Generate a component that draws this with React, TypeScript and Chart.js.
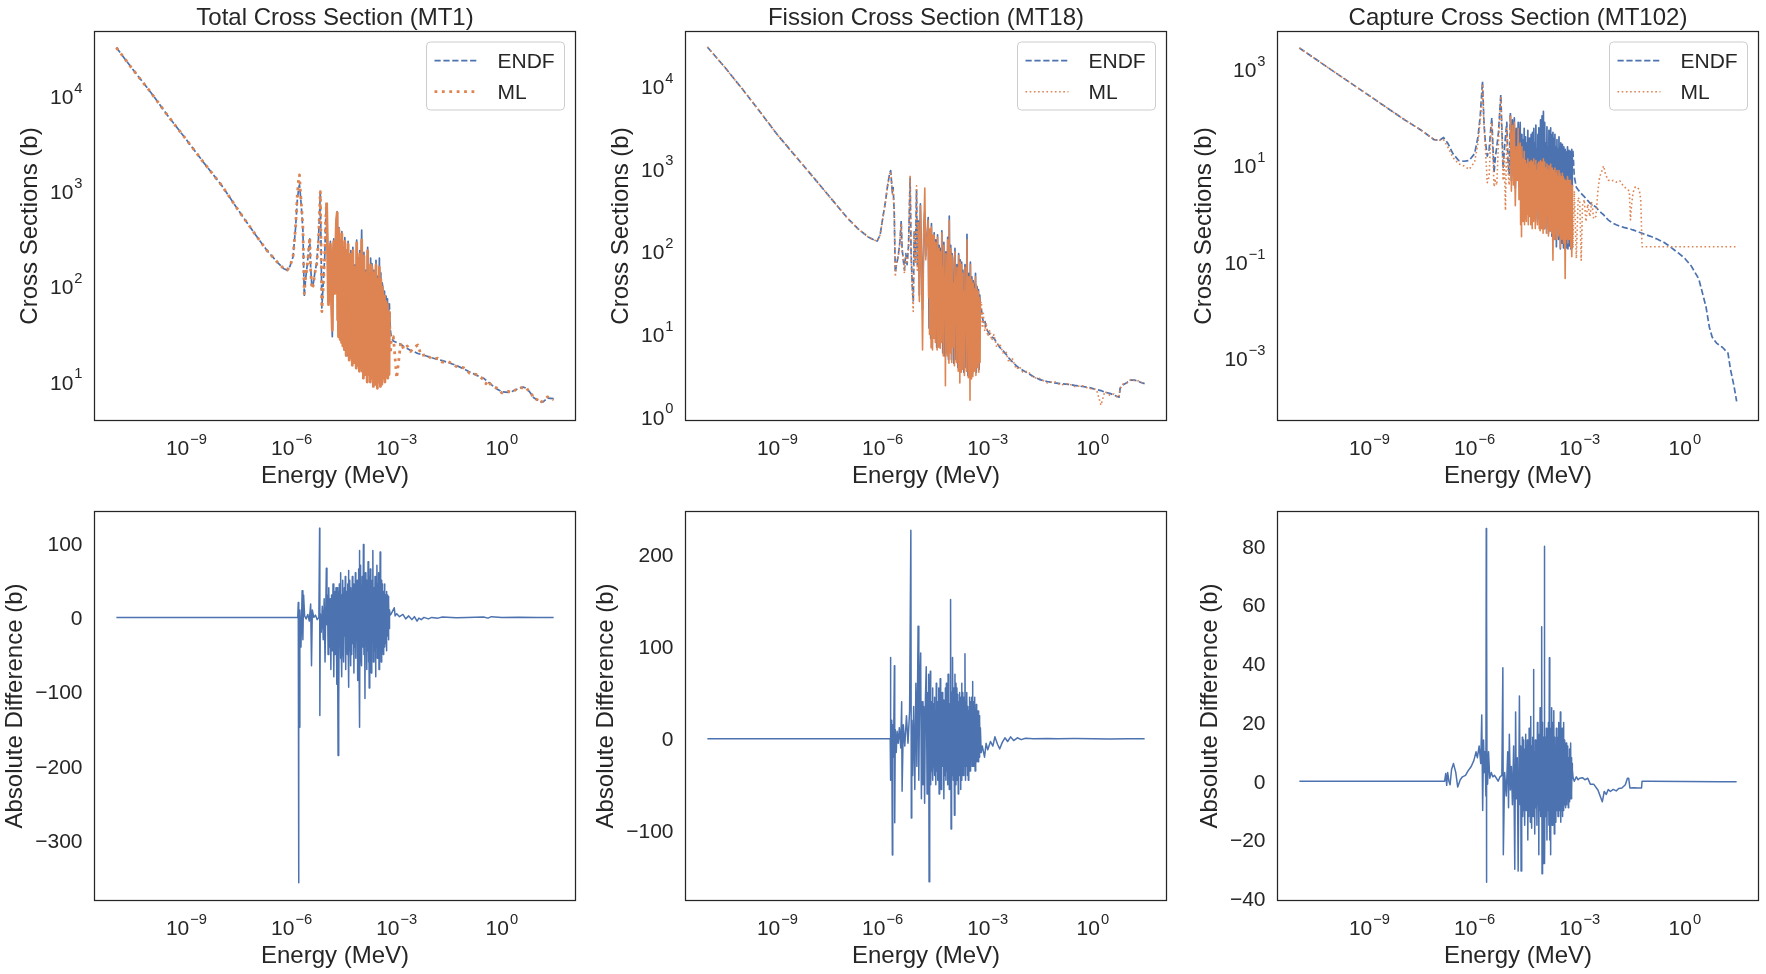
import React, { useEffect, useRef } from "react";
import { Chart, registerables } from "chart.js";

Chart.register(...registerables);

// ---------------- text ----------------
const PANEL_TITLES = [
  "Total Cross Section (MT1)",
  "Fission Cross Section (MT18)",
  "Capture Cross Section (MT102)",
];
const SERIES_NAMES = ["ENDF", "ML"];
const X_LABEL = "Energy (MeV)";
const Y_LABEL_TOP = "Cross Sections (b)";
const Y_LABEL_BOTTOM = "Absolute Difference (b)";

// ---------------- ticks ----------------
const X_TICK_EXPONENTS = [-9, -6, -3, 0];
const TOTAL_Y_EXPONENTS = [1, 2, 3, 4];
const FISSION_Y_EXPONENTS = [0, 1, 2, 3, 4];
const CAPTURE_Y_EXPONENTS = [-3, -1, 1, 3];
const DIFF_TOTAL_TICKS = [100, 0, -100, -200, -300];
const DIFF_FISSION_TICKS = [200, 100, 0, -100];
const DIFF_CAPTURE_TICKS = [80, 60, 40, 20, 0, -20, -40];

// ---------------- resolved-resonance energy grids (MeV) ----------------
const RESONANCE_GRID = [
  2.00e-5, 2.06e-5, 2.12e-5, 2.18e-5, 2.24e-5, 2.30e-5, 2.36e-5, 2.42e-5, 2.48e-5, 2.54e-5,
  2.60e-5, 2.66e-5, 2.72e-5, 2.78e-5, 2.84e-5, 2.90e-5, 2.96e-5,
  3.0e-5, 3.1e-5, 3.2e-5, 3.3e-5, 3.4e-5, 3.5e-5, 3.6e-5, 3.7e-5, 3.8e-5, 3.9e-5,
  4.0e-5, 4.1e-5, 4.2e-5, 4.3e-5, 4.4e-5, 4.5e-5, 4.6e-5, 4.7e-5, 4.8e-5, 4.9e-5,
  5.0e-5, 5.2e-5, 5.4e-5, 5.6e-5, 5.8e-5, 6.0e-5, 6.2e-5, 6.4e-5, 6.6e-5, 6.8e-5,
  7.0e-5, 7.2e-5, 7.4e-5, 7.6e-5, 7.8e-5, 8.0e-5, 8.2e-5, 8.4e-5, 8.6e-5, 8.8e-5,
  9.0e-5, 9.2e-5, 9.4e-5, 9.6e-5, 9.8e-5,
  1.00e-4, 1.04e-4, 1.08e-4, 1.12e-4, 1.16e-4, 1.20e-4, 1.24e-4, 1.28e-4, 1.32e-4, 1.36e-4,
  1.40e-4, 1.44e-4, 1.48e-4, 1.52e-4, 1.56e-4, 1.60e-4, 1.64e-4, 1.68e-4, 1.72e-4, 1.76e-4,
  1.80e-4, 1.84e-4, 1.88e-4, 1.92e-4, 1.96e-4,
  2.00e-4, 2.08e-4, 2.16e-4, 2.24e-4, 2.32e-4, 2.40e-4, 2.48e-4, 2.56e-4, 2.64e-4, 2.72e-4,
  2.80e-4, 2.88e-4, 2.96e-4, 3.04e-4, 3.12e-4, 3.20e-4, 3.28e-4, 3.36e-4, 3.44e-4, 3.52e-4,
  3.60e-4, 3.68e-4, 3.76e-4, 3.84e-4, 3.92e-4,
  4.00e-4, 4.12e-4, 4.24e-4, 4.36e-4, 4.48e-4, 4.60e-4, 4.72e-4, 4.84e-4, 4.96e-4, 5.08e-4,
  5.20e-4, 5.32e-4, 5.44e-4, 5.56e-4, 5.68e-4, 5.80e-4, 5.92e-4, 6.04e-4, 6.16e-4,
];
const RESONANCE_GRID_COARSE = [
  2.00e-5, 2.12e-5, 2.24e-5, 2.36e-5, 2.48e-5, 2.60e-5, 2.72e-5, 2.84e-5, 2.96e-5,
  3.1e-5, 3.3e-5, 3.5e-5, 3.7e-5, 3.9e-5, 4.1e-5, 4.3e-5, 4.5e-5, 4.7e-5, 4.9e-5,
  5.2e-5, 5.6e-5, 6.0e-5, 6.4e-5, 6.8e-5, 7.2e-5, 7.6e-5, 8.0e-5, 8.4e-5, 8.8e-5, 9.2e-5, 9.6e-5,
  1.00e-4, 1.08e-4, 1.16e-4, 1.24e-4, 1.32e-4, 1.40e-4, 1.48e-4, 1.56e-4, 1.64e-4, 1.72e-4, 1.80e-4, 1.88e-4, 1.96e-4,
  2.08e-4, 2.24e-4, 2.40e-4, 2.56e-4, 2.72e-4, 2.88e-4, 3.04e-4, 3.20e-4, 3.36e-4, 3.52e-4, 3.68e-4, 3.84e-4,
  4.00e-4, 4.24e-4, 4.48e-4, 4.72e-4, 4.96e-4, 5.20e-4, 5.44e-4, 5.68e-4, 5.92e-4, 6.16e-4,
];

// ---------------- Total cross section (MT1) ----------------
const ENERGY_TOTAL_LOW = [
  1e-11, 3e-11, 1e-10, 3e-10, 1e-9, 3e-9, 1e-8, 3e-8, 1e-7, 2e-7,
  4e-7, 6e-7, 7.5e-7, 9e-7, 1.1e-6, 1.3e-6, 1.45e-6, 1.6e-6, 1.68e-6, 1.8e-6,
  1.95e-6, 2.1e-6, 2.3e-6, 2.5e-6, 2.8e-6, 3.1e-6, 3.3e-6, 3.5e-6, 3.8e-6, 4.2e-6,
  4.6e-6, 5.2e-6, 5.8e-6, 6.3e-6, 6.6e-6, 6.9e-6, 7.3e-6, 8.0e-6, 8.8e-6, 9.4e-6,
  1.0e-5, 1.06e-5, 1.13e-5, 1.2e-5, 1.28e-5, 1.36e-5, 1.45e-5, 1.52e-5, 1.6e-5, 1.7e-5,
  1.8e-5, 1.9e-5,
];
const ENERGY_TOTAL_HIGH = [
  6.6e-4, 7.0e-4, 8.0e-4, 1.0e-3, 1.3e-3, 1.6e-3, 2.0e-3, 2.5e-3, 3.0e-3, 4.0e-3,
  5.0e-3, 7.0e-3, 1.0e-2, 1.5e-2, 2.0e-2, 3.0e-2, 5.0e-2, 8.0e-2, 0.12, 0.2,
  0.3, 0.35, 0.4, 0.5, 0.7, 1.0, 1.5, 2.0, 3.0, 4.0,
  5.0, 6.0, 7.0, 8.0, 10, 12, 15, 20, 30,
];
const TOTAL_ENDF_LOW = [
  32500, 19000, 10800, 6200, 3500, 2050, 1170, 640, 340, 240,
  180, 155, 150, 165, 207, 420, 800, 1100, 1175, 900,
  600, 400, 79, 120, 170, 260, 320, 160, 100, 110,
  140, 180, 300, 600, 990, 300, 60, 110, 200, 500,
  760, 250, 70, 150, 300, 90, 30, 200, 320, 90,
  260, 500,
];
const TOTAL_ENDF_RRR = [
  615, 35, 420, 40, 300, 28, 380, 35, 260,
  22, 330, 30, 220, 19, 300, 28, 190, 18, 240,
  25, 260, 16, 170, 14, 310, 22, 200, 14, 240, 15, 160,
  395, 11, 230, 12, 150, 10, 260, 13, 140, 10, 200, 11, 175,
  9, 150, 10, 190, 9, 130, 11, 200, 9, 140, 10, 110,
  100, 12, 90, 11, 80, 13, 75, 12, 60, 67,
];
const TOTAL_ENDF_HIGH = [
  35, 30, 27, 26, 25, 23.5, 22.5, 21.5, 21, 20,
  19.5, 18.8, 18, 17.2, 16.8, 16, 15, 13.8, 12.8, 11.7,
  11, 10.5, 10.1, 9.4, 8.5, 7.9, 7.8, 8.0, 8.6, 8.9,
  8.6, 8.0, 7.4, 6.9, 6.5, 6.2, 6.2, 6.8, 6.7,
];
const TOTAL_ML_LOW = [
  32500, 19000, 10800, 6200, 3500, 2050, 1170, 640, 340, 240,
  180, 155, 150, 165, 207, 430, 900, 1400, 1500, 950,
  650, 420, 85, 125, 165, 250, 330, 150, 95, 105,
  140, 170, 290, 620, 1000, 320, 55, 100, 210, 520,
  770, 240, 65, 140, 280, 80, 35, 190, 300, 85,
  240, 480,
];
const TOTAL_ML_RRR = [
  600, 45, 170, 30, 400, 55, 120, 28, 310, 40, 140, 26, 360, 38, 95, 24, 250,
  30, 110, 22, 300, 45, 85, 19, 240, 36, 130, 20, 280, 25, 75, 17, 200, 40, 100, 18, 220,
  22, 95, 15, 240, 36, 120, 16, 160, 27, 80, 14, 290, 30, 95, 15, 190, 20, 90, 13, 220, 40, 110, 14, 150, 25,
  310, 13, 85, 11, 210, 30, 110, 12, 140, 36, 75, 10, 240, 27, 90, 12, 130, 20, 65, 10, 170, 34, 100, 11, 160,
  12, 70, 9, 140, 25, 95, 9.5, 170, 30, 65, 8.6, 120, 20, 75, 10, 160, 27, 85, 9, 120, 16, 60, 9.5, 100, 22,
  90, 11, 50, 16, 80, 10, 65, 22, 70, 12, 45, 18, 65, 11, 55, 14, 40, 12, 55,
];
const TOTAL_ML_HIGH = [
  20, 28, 30, 11, 26, 22, 24, 21, 23, 24.5,
  19, 19.5, 17.5, 17.8, 16.2, 16.4, 14.6, 14.2, 12.4, 12.0,
  10.6, 9.6, 10.4, 9.2, 8.7, 7.7, 8.0, 7.8, 8.8, 8.7,
  8.8, 7.8, 7.6, 6.7, 6.6, 6.0, 6.4, 7.0, 6.5,
];

// ---------------- Fission cross section (MT18) ----------------
const ENERGY_FISSION_LOW = [
  1e-11, 3e-11, 1e-10, 3e-10, 1e-9, 3e-9, 1e-8, 3e-8, 1e-7, 2e-7,
  4e-7, 6e-7, 7e-7, 8.5e-7, 1.0e-6, 1.2e-6, 1.4e-6, 1.6e-6, 1.7e-6, 1.8e-6,
  1.9e-6, 2.0e-6, 2.15e-6, 2.3e-6, 2.5e-6, 2.8e-6, 3.1e-6, 3.4e-6, 3.6e-6, 3.9e-6,
  4.2e-6, 4.6e-6, 5.0e-6, 5.5e-6, 6.1e-6, 6.5e-6, 7.0e-6, 7.5e-6, 8.0e-6, 8.6e-6,
  9.3e-6, 9.8e-6, 1.05e-5, 1.12e-5, 1.2e-5, 1.3e-5, 1.38e-5, 1.5e-5, 1.6e-5, 1.7e-5,
];
const ENERGY_FISSION_HIGH = [
  6.6e-4, 7.0e-4, 7.5e-4, 8.2e-4, 9.0e-4, 1.0e-3, 1.15e-3, 1.3e-3, 1.5e-3, 1.8e-3,
  2.2e-3, 2.7e-3, 3.3e-3, 4.0e-3, 5.0e-3, 6.5e-3, 8.0e-3, 1.0e-2, 1.4e-2, 2.0e-2,
  3.0e-2, 5.0e-2, 8.0e-2, 0.12, 0.2, 0.3, 0.5, 0.8, 1.0, 1.3,
  1.7, 2.2, 3.0, 4.0, 5.0, 5.6, 6.0, 7.0, 9.0, 12,
  16, 20, 30,
];
const FISSION_ENDF_LOW = [
  30000, 17500, 9300, 5100, 2600, 1500, 820, 470, 255, 190,
  150, 138, 135, 160, 250, 400, 650, 900, 960, 700,
  520, 600, 300, 56, 70, 90, 130, 237, 110, 80,
  60, 95, 70, 120, 780, 100, 40, 25, 180, 80,
  560, 70, 240, 30, 380, 60, 20, 200, 300, 90,
];
const FISSION_ENDF_RRR = [
  260, 12, 180, 9, 220, 7.1, 150, 10, 170,
  9, 140, 7, 160, 8, 120, 7.5, 110, 9, 180,
  6, 130, 5.5, 100, 6, 150, 5, 270, 6.5, 120, 5, 95,
  85, 4.5, 110, 5, 70, 4, 95, 4.5, 80, 3.8, 75, 4.2, 60,
  3.5, 70, 4, 163, 3.2, 55, 3.6, 75, 3.1, 50, 3.4, 45,
  40, 4, 55, 3.5, 38, 4.3, 35, 3.8, 30, 20,
];
const FISSION_ENDF_HIGH = [
  20, 16.5, 14, 15, 12, 11, 10, 9.4, 9.0, 8.0,
  7.0, 6.4, 5.8, 5.2, 4.7, 4.2, 3.9, 3.7, 3.4, 3.1,
  2.85, 2.7, 2.6, 2.55, 2.5, 2.42, 2.35, 2.28, 2.22, 2.15,
  2.1, 2.0, 1.95, 1.85, 1.78, 1.75, 2.25, 2.45, 2.6, 2.8,
  2.8, 2.7, 2.55,
];
const FISSION_ML_LOW = [
  30000, 17500, 9300, 5100, 2600, 1500, 820, 470, 255, 190,
  150, 138, 135, 160, 245, 390, 640, 880, 940, 720,
  500, 560, 280, 50, 75, 85, 125, 220, 100, 85,
  55, 90, 75, 110, 840, 90, 35, 19, 170, 75,
  630, 60, 230, 25, 360, 55, 6.5, 190, 590, 80,
];
const FISSION_ML_RRR = [
  240, 28, 130, 10, 190, 40, 85, 6.9, 200, 22, 75, 6.5, 160, 30, 95, 9, 160,
  18, 65, 8, 130, 25, 80, 6.5, 150, 16, 55, 7, 110, 28, 70, 6.8, 100, 14, 48, 8, 170,
  11, 65, 5.5, 120, 22, 50, 2.4, 95, 13, 42, 5.5, 140, 18, 60, 4.5, 240, 15, 48, 6, 110, 20, 55, 4.6, 90, 10,
  80, 7, 42, 4.2, 100, 16, 48, 4.6, 65, 11, 33, 3.6, 90, 14, 42, 2.6, 75, 9, 28, 3.5, 70, 13, 38, 3.8, 55,
  8, 33, 3.2, 65, 11, 28, 3.6, 140, 7.5, 36, 3, 50, 10, 26, 1.6, 70, 8.5, 28, 2.9, 46, 9, 24, 3.1, 42, 6.5,
  36, 3.6, 26, 7.5, 50, 3.2, 40, 8.5, 35, 4, 24, 6.5, 33, 3.5, 21, 7.5, 28, 4.6, 24,
];
const FISSION_ML_HIGH = [
  25, 12, 18, 11, 14, 9.5, 11.3, 8.5, 10, 7,
  7.8, 6, 6.3, 4.6, 5.2, 3.8, 4.1, 3.5, 3.6, 3.0,
  2.95, 2.6, 2.7, 2.45, 2.55, 2.35, 2.4, 2.2, 2.25, 2.1,
  1.4, 2.05, 1.85, 1.9, 1.72, 1.8, 2.2, 2.5, 2.55, 2.85,
  2.75, 2.75, 2.5,
];

// ---------------- Capture cross section (MT102) ----------------
const ENERGY_CAPTURE_LOW = [
  1e-11, 1e-10, 1e-9, 1e-8, 3e-8, 7e-8, 1e-7, 1.3e-7, 1.7e-7, 2.4e-7,
  3.5e-7, 5e-7, 7e-7, 1.0e-6, 1.25e-6, 1.45e-6, 1.6e-6, 1.68e-6, 1.75e-6, 1.85e-6,
  2.0e-6, 2.3e-6, 2.6e-6, 2.9e-6, 3.1e-6, 3.3e-6, 3.6e-6, 3.9e-6, 4.3e-6, 4.8e-6,
  5.3e-6, 5.6e-6, 6.0e-6, 6.5e-6, 7.0e-6, 7.6e-6, 8.3e-6, 9.0e-6, 9.7e-6,
  1.05e-5, 1.12e-5, 1.2e-5, 1.28e-5, 1.36e-5, 1.45e-5, 1.55e-5, 1.65e-5, 1.75e-5, 1.85e-5,
  1.95e-5,
];
const ENERGY_CAPTURE_HIGH = [
  6.4e-4, 7.0e-4, 8.0e-4, 9.0e-4, 1.0e-3, 1.1e-3, 1.2e-3, 1.35e-3, 1.5e-3, 1.7e-3,
  1.95e-3, 2.2e-3, 2.5e-3, 2.9e-3, 3.3e-3, 3.7e-3, 4.2e-3, 4.8e-3, 5.5e-3, 6.5e-3,
  7.5e-3, 9e-3, 1.1e-2, 1.4e-2, 1.8e-2, 2.2e-2, 2.6e-2, 2.8e-2, 3.0e-2, 3.3e-2,
  3.6e-2, 3.9e-2, 4.2e-2, 4.5e-2, 5.0e-2, 5.5e-2, 6.0e-2, 6.5e-2, 7.0e-2, 0.1,
  0.15, 0.25, 0.35, 0.5, 0.7, 1.0, 1.5, 2.5, 4.0, 5.0,
  6.0, 8.0, 12, 17, 20, 25, 30,
];
const CAPTURE_ENDF_LOW = [
  2800, 890, 285, 91, 55, 35, 34, 39, 30, 18,
  13, 12.5, 13, 18, 40, 110, 330, 570, 250, 80,
  35, 16, 22, 60, 100, 30, 7.2, 15, 25, 50,
  160, 300, 60, 9, 20, 40, 80, 12, 6.6,
  126, 5, 90, 7, 100, 3.5, 60, 8, 80, 4,
  45,
];
const CAPTURE_ENDF_RRR = [
  80, 3, 25, 1.5, 45, 6, 18, 1.2, 35, 4, 60, 2, 22, 1.3, 40, 5, 30,
  1.2, 20, 3, 55, 1.5, 15, 0.9, 38, 4, 27, 1, 45, 2.5, 18, 0.8, 50, 3, 25, 1.1, 60,
  1.4, 30, 0.8, 70, 3, 22, 0.7, 45, 2, 62, 1.1, 25, 0.6, 90, 2.5, 35, 0.7, 110, 1.8, 40, 0.6, 135, 2, 50, 0.5,
  80, 1.5, 30, 0.5, 65, 2, 25, 0.4, 55, 1.2, 35, 0.45, 62, 1.5, 28, 0.35, 45, 0.9, 50, 0.4, 38, 1, 30, 0.3, 45,
  0.5, 25, 0.21, 35, 0.8, 22, 0.3, 40, 0.6, 20, 0.19, 30, 0.5, 18, 0.25, 28, 0.4, 23.5, 0.2, 25, 0.6, 15, 0.19, 22, 0.35,
  20, 0.2, 18, 0.5, 25, 0.19, 15, 0.3, 21, 0.22, 16, 0.4, 20, 0.19, 18, 0.3, 22, 0.2, 20,
];
const CAPTURE_ENDF_HIGH = [
  20, 6, 3.6, 3.2, 2.9, 2.7, 2.5, 2.3, 2.1, 1.9,
  1.7, 1.6, 1.5, 1.4, 1.25, 1.15, 1.05, 0.97, 0.85, 0.76,
  0.7, 0.64, 0.6, 0.56, 0.53, 0.51, 0.5, 0.49, 0.48, 0.47,
  0.46, 0.45, 0.44, 0.43, 0.42, 0.41, 0.4, 0.39, 0.38, 0.35,
  0.31, 0.26, 0.22, 0.18, 0.15, 0.12, 0.085, 0.045, 0.012, 0.0045,
  0.0028, 0.0021, 0.0017, 0.0013, 0.0006, 0.00028, 0.00013,
];
const CAPTURE_ML_LOW = [
  2800, 890, 285, 91, 55, 35, 34, 35, 25, 15,
  11, 10, 8.5, 12, 30, 90, 200, 500, 200, 70,
  28, 4.5, 6, 45, 80, 20, 3.7, 5, 4, 30,
  140, 280, 50, 5, 15, 1.2, 60, 8, 4,
  110, 3, 70, 4, 80, 1.5, 25, 5, 60, 2,
  25,
];
const CAPTURE_ML_RRR = [
  30, 0.6, 12, 0.34, 25, 2, 8, 0.7, 14, 1.5, 20, 0.6, 10, 0.8, 13, 1.2, 9,
  0.7, 11, 1, 14, 0.6, 8, 0.9, 12, 1.4, 10, 0.6, 13, 0.9, 7, 0.5, 12, 1.1, 9, 0.7, 14,
  0.8, 10, 0.5, 13, 1.2, 8, 0.6, 11, 0.8, 12, 0.5, 9, 0.45, 13, 1, 10, 0.5, 12, 0.7, 9, 0.4, 14, 0.8, 11, 0.5,
  12, 0.6, 9, 0.4, 11, 0.9, 8, 0.35, 10, 0.5, 7, 0.45, 11, 0.6, 8, 0.4, 9, 0.5, 0.11, 0.7, 8, 0.5, 7, 0.3, 9,
  0.4, 7, 0.3, 8, 0.5, 6, 0.35, 8, 0.4, 7, 0.2, 6, 0.45, 5, 0.3, 7, 0.4, 6, 0.25, 5.5, 0.4, 5, 0.35, 0.046, 0.3,
  5, 0.3, 4.5, 0.4, 6, 0.25, 4, 0.35, 5, 0.3, 4.5, 0.4, 5, 0.2, 4, 0.35, 0.13, 0.3, 4,
];
const CAPTURE_ML_HIGH = [
  0.2, 3, 0.12, 2.2, 1.95, 0.11, 1.5, 2.0, 0.7, 1.6,
  0.89, 1.8, 0.8, 0.9, 3.0, 6.0, 7.5, 10, 6.5, 5.1,
  4.8, 5.0, 4.6, 4.9, 3.7, 3.4, 3.0, 0.76, 1.5, 2.7,
  3.4, 3.7, 3.6, 3.5, 3.2, 2.0, 0.21, 0.21, 0.21, 0.21,
  0.21, 0.21, 0.21, 0.21, 0.21, 0.21, 0.21, 0.21, 0.21, 0.21,
  0.21, 0.21, 0.21, 0.21, 0.21, 0.21, 0.21,
];

// ---------------- Absolute differences ----------------
const ENERGY_DIFF_TOTAL_LOW = [
  1e-11, 1e-8, 1e-6, 1.5e-6, 1.55e-6, 1.58e-6, 1.62e-6, 1.66e-6, 1.72e-6, 1.85e-6,
  2.0e-6, 2.1e-6, 2.2e-6, 2.35e-6, 2.6e-6, 2.9e-6, 3.2e-6, 3.5e-6, 3.7e-6, 3.9e-6,
  4.3e-6, 4.8e-6, 5.4e-6, 6.0e-6, 6.3e-6, 6.4e-6, 6.6e-6, 7.0e-6, 7.5e-6, 8.0e-6,
  8.5e-6, 9.0e-6, 9.8e-6, 1.02e-5, 1.06e-5, 1.1e-5, 1.15e-5, 1.2e-5, 1.26e-5, 1.32e-5,
  1.38e-5, 1.45e-5, 1.52e-5, 1.6e-5, 1.68e-5, 1.76e-5, 1.85e-5, 1.95e-5,
];
const ENERGY_DIFF_TOTAL_HIGH = [
  6.3e-4, 6.5e-4, 7e-4, 8.5e-4, 9e-4, 1.0e-3, 1.2e-3, 1.5e-3, 1.8e-3, 2.2e-3,
  2.7e-3, 3.2e-3, 3.8e-3, 4.3e-3, 5e-3, 6e-3, 8e-3, 1e-2, 1.5e-2, 2e-2,
  5e-2, 0.1, 0.3, 0.4, 0.5, 1, 3, 10, 30,
];
const DIFF_TOTAL_LOW = [
  0, 0, 0, 0, 20, -357, 5, -148, 10, -40,
  36, -30, 30, 2, -2, 4, -5, 18, -65, 10,
  0, 3, -3, 0, 120, -132, 5, -20, 15, -30,
  25, -60, 66, -10, 30, -50, 40, -40, 25, -70,
  30, -45, 45, -80, 35, -50, 40, -90,
];
const DIFF_TOTAL_RRR = [
  40, -60, -186, 35, -121, 45, -30, 25, -55, 60, -40, 30, -80, 20, -35, 50, -45,
  30, -60, 40, -25, 55, -70, 35, -40, 25, -50, 45, -30, 63, -94, 35, -45, 50, -20, 40, -65,
  30, -50, 55, -35, 45, -75, 25, -40, 60, -55, 35, -30, 50, -85, 40, -45, 65, -60, 90, -148, 50, -40, 70, -55, 35,
  -65, 55, -40, 98, -50, 45, -109, 60, -35, 50, -70, 40, -45, 75, -60, 35, -95, 55, -40, 65, -50, 30, -75, 45, -35,
  50, 90, -60, 40, -45, 55, -80, 35, -40, 70, -55, 45, -35, 60, -70, 40, -50, 88, -45, 35, -60, 50, -40, 45, -30,
  40, -50, 35, -30, 45, -40, 30, -35, 25, -45, 35, -25, 30, -20, 28, -30, 20, -15, 10,
];
const DIFF_TOTAL_HIGH = [
  10, 3, 5, 13, 2, 5, 1, 4, -2, 2,
  -3, 1, -5, -1, -3, 0, -2, 0, -1, 0.5,
  -0.5, 0, 0.5, -1, 1, 0, 0.3, 0, 0,
];

const ENERGY_DIFF_FISSION_LOW = [
  1e-11, 1e-8, 1e-6, 1.65e-6, 1.68e-6, 1.71e-6, 1.75e-6, 1.8e-6, 1.85e-6, 1.9e-6,
  1.95e-6, 2.05e-6, 2.17e-6, 2.22e-6, 2.3e-6, 2.45e-6, 2.6e-6, 2.8e-6, 3.0e-6, 3.3e-6,
  3.5e-6, 3.6e-6, 3.9e-6, 4.3e-6, 4.8e-6, 5.3e-6, 5.9e-6, 6.4e-6, 6.6e-6, 6.8e-6,
  7.2e-6, 7.7e-6, 8.3e-6, 8.9e-6, 9.5e-6, 1.03e-5, 1.08e-5, 1.14e-5, 1.22e-5, 1.28e-5,
  1.35e-5, 1.42e-5, 1.5e-5, 1.58e-5, 1.67e-5, 1.76e-5, 1.86e-5, 1.96e-5,
];
const ENERGY_DIFF_FISSION_HIGH = [
  6.5e-4, 7.0e-4, 8.1e-4, 9.0e-4, 1.0e-3, 1.2e-3, 1.4e-3, 1.6e-3, 1.9e-3, 2.2e-3,
  2.6e-3, 3.1e-3, 3.7e-3, 4.5e-3, 5.5e-3, 7e-3, 9e-3, 1.2e-2, 2e-2, 5e-2,
  0.1, 0.3, 1, 3, 10, 30,
];
const DIFF_FISSION_LOW = [
  0, 0, 0, 0, 88, -45, 20, -10, 5, -126,
  15, -20, 79, -91, 10, -15, 8, -5, 12, -10,
  40, -57, 15, -8, 25, -5, 30, 226, -86, 20,
  -40, 35, -55, 60, -30, 122, -45, 50, 93, -65,
  40, -50, 35, -70, 45, 78, -60, 50,
];
const DIFF_FISSION_RRR = [
  -40, 70, -155, 45, 20, 73, -50, 30, -35, 40, -20, 55, -45, 25, -30, 38, -25,
  45, -40, 30, -50, 60, -35, 28, -45, 40, -30, 55, -60, 38, -42, 65, -38, 45, -55, 30, -25,
  50, -30, 42, -65, 35, -40, 55, -45, 60, -35, 40, -50, 70, -30, 45, -55, 38, -40, 48, 151, -98, 50, -35, 45, -40,
  88, -45, 55, -83, 70, -50, 60, -45, 55, -35, 48, -60, 40, -30, 50, -40, 45, -55, 35, -25, 60, -45, 40, -35, 50,
  -40, 45, -30, 92, -45, 40, -30, 50, -40, 35, -45, 30, -25, 45, -35, 40, -30, 35, -20, 45, -30, 62, -25, 40, -30,
  35, -25, 45, -35, 30, -20, 37, -25, 30, -20, 28, -25, 30, -15, 25, -20, 20, -15, 12,
];
const DIFF_FISSION_HIGH = [
  -15, -8, -20, -5, -12, -3, -8, 2, -6, -11,
  -4, 1, -3, 2, -2, 1, -1, 0.5, 0, 0.3,
  0, 0.2, 0, -0.3, 0, 0,
];

const ENERGY_DIFF_CAPTURE_LOW = [
  1e-11, 1e-8, 1.4e-7, 1.5e-7, 1.6e-7, 1.7e-7, 1.85e-7, 2.0e-7, 2.2e-7, 2.5e-7,
  2.9e-7, 3.3e-7, 3.9e-7, 4.5e-7, 5.5e-7, 6.5e-7, 8.0e-7, 9.5e-7, 1.1e-6, 1.2e-6,
  1.35e-6, 1.5e-6, 1.6e-6, 1.7e-6, 1.8e-6, 1.9e-6, 2.0e-6, 2.1e-6, 2.15e-6, 2.18e-6,
  2.22e-6, 2.26e-6, 2.35e-6, 2.5e-6, 2.7e-6, 3.0e-6, 3.3e-6, 3.7e-6, 4.2e-6, 4.7e-6,
  5.3e-6, 6.0e-6, 6.4e-6, 6.6e-6, 7.2e-6, 8.0e-6, 8.8e-6, 9.3e-6, 9.8e-6, 1.05e-5,
  1.12e-5, 1.2e-5, 1.3e-5, 1.4e-5, 1.48e-5, 1.55e-5, 1.65e-5, 1.75e-5, 1.9e-5,
];
const ENERGY_DIFF_CAPTURE_HIGH = [
  6.5e-4, 7e-4, 8e-4, 9e-4, 1.0e-3, 1.2e-3, 1.4e-3, 1.7e-3, 2.0e-3, 2.5e-3,
  3.3e-3, 4.4e-3, 5.0e-3, 5.7e-3, 6.5e-3, 7.5e-3, 9e-3, 1.1e-2, 1.3e-2, 1.6e-2,
  2.0e-2, 2.3e-2, 2.5e-2, 2.7e-2, 3.5e-2, 4.5e-2, 5.8e-2, 6.0e-2, 0.1, 1,
  10, 30,
];
const DIFF_CAPTURE_LOW = [
  0, 0, 0, 2.6, -1.4, 3, 0, -1.2, 4, 6,
  3, -2, 0.5, 1.5, 2, 3.5, 5, 7, 10, 8,
  12, 6, 22.5, -10, 14, 3, 10, -5, 86, -34.4,
  57, 2, -1, 10, 1, 3, 1.5, 2, 1, 0,
  1.5, 2, 38.6, -25, 3, -5, 10, -9, 16, -3,
  5, -8, 12, -30, 23.6, -6, 8, -30.6, 29,
];
const DIFF_CAPTURE_RRR = [
  -8, 12, -30.6, 10, -6, 15, -12, 8, -10, 14, -5, 9, -15, 11, -8, 16, -10,
  12, -9, 14, -20, 8, -12, 18, -7, 10, -14, 22, -9, 12, -16, 9, -8, 15, -12, 38, -10,
  10, -18, 14, -9, 12, -15, 20, -8, 11, -25, 16, -10, 25, -12, 14, -9, 52.6, -31.5, 20, -17, 12, -28, 15, 10, 80,
  -28, 15, -12, 18, -20, 12, -10, 20, -15, 42, -20, 12, -25, 18, -10, 25, -15, 20, -12, 15, -9, 24, -18, 15, -8,
  12, -14, 18, -10, 15, -12, 20, -8, 14, -10, 23.6, -14, 12, -10, 18, -12, 15, -8, 20, -10, 12, -8, 14, -6, 10,
  -9, 13, -8, 10, -6, 12, -9, 8, -5, 11, -7, 9, -6, 13, -6, 8, -4, 6, 4,
];
const DIFF_CAPTURE_HIGH = [
  1, 0, 1.5, 0.5, 1, 1.2, 0.5, 1, -1, -1,
  -3, -7, -3.5, -4.5, -2.8, -3.5, -2.8, -3.3, -2.5, -2.3,
  -1.2, 1, 1, -2.3, -2.2, -2.3, -2.3, 0, 0, -0.1,
  -0.2, -0.2,
];

// ---------------- style ----------------
const BLUE = "#4C72B0";
const ORANGE = "#DD8452";
const INK = "#262626";
const FONT = '"Liberation Sans", Arial, Helvetica, sans-serif';
const TICK_SIZE = 21;
const SUP_SIZE = 14.7;
const SUP_RAISE = 11.2;
const SUP_GAP = 1;
const LABEL_SIZE = 24;
const LEGEND_SIZE = 21;
const CAP_HALF = 7.5;
const YLABEL_GAP = 13;

const X_MIN = Math.pow(10, -11.624);
const X_MAX = Math.pow(10, 2.101);
// Where the original sampling is so dense that dashes/dots merge into a solid band.
const DENSE_MIN = 1.0e-5;
const DENSE_MAX = RESONANCE_GRID[RESONANCE_GRID.length - 1];

const COLS = [
  { cl: 0, cw: 590, bl: 94.5 },
  { cl: 590, cw: 590, bl: 685.5 },
  { cl: 1180, cw: 586, bl: 1277.5 },
];
const ROWS = [
  { ct: 0, ch: 490, bt: 31.5 },
  { ct: 490, ch: 484, bt: 511.5 },
];
const BOX_W = 481;
const BOX_H = 389;

type LineStyle = { width: number; dash: number[] };
type Series = { label: string; x: number[]; y: number[]; color: string; style: LineStyle; order: number };
type Spec = {
  id: string;
  col: number;
  row: number;
  yLog: boolean;
  yMin: number;
  yMax: number;
  yTicks: number[];
  title?: string;
  yLabel: string;
  series: Series[];
  legend: boolean;
};

const ENDF_STYLE: LineStyle = { width: 1.7, dash: [6.2, 2.7] };
const ML_THICK: LineStyle = { width: 2.8, dash: [2.8, 4.6] };
const ML_THIN: LineStyle = { width: 1.6, dash: [1.6, 2.6] };
const SOLID: LineStyle = { width: 1.5, dash: [] };

const E_TOTAL_ENDF = [...ENERGY_TOTAL_LOW, ...RESONANCE_GRID_COARSE, ...ENERGY_TOTAL_HIGH];
const E_TOTAL_ML = [...ENERGY_TOTAL_LOW, ...RESONANCE_GRID, ...ENERGY_TOTAL_HIGH];
const E_FISSION_ENDF = [...ENERGY_FISSION_LOW, ...RESONANCE_GRID_COARSE, ...ENERGY_FISSION_HIGH];
const E_FISSION_ML = [...ENERGY_FISSION_LOW, ...RESONANCE_GRID, ...ENERGY_FISSION_HIGH];
const E_CAPTURE = [...ENERGY_CAPTURE_LOW, ...RESONANCE_GRID, ...ENERGY_CAPTURE_HIGH];
const E_DIFF_TOTAL = [...ENERGY_DIFF_TOTAL_LOW, ...RESONANCE_GRID, ...ENERGY_DIFF_TOTAL_HIGH];
const E_DIFF_FISSION = [...ENERGY_DIFF_FISSION_LOW, ...RESONANCE_GRID, ...ENERGY_DIFF_FISSION_HIGH];
const E_DIFF_CAPTURE = [...ENERGY_DIFF_CAPTURE_LOW, ...RESONANCE_GRID, ...ENERGY_DIFF_CAPTURE_HIGH];

const SPECS: Spec[] = [
  {
    id: "total", col: 0, row: 0, yLog: true,
    yMin: Math.pow(10, 0.597), yMax: Math.pow(10, 4.681), yTicks: TOTAL_Y_EXPONENTS,
    title: PANEL_TITLES[0], yLabel: Y_LABEL_TOP, legend: true,
    series: [
      { label: SERIES_NAMES[0], x: E_TOTAL_ENDF, y: [...TOTAL_ENDF_LOW, ...TOTAL_ENDF_RRR, ...TOTAL_ENDF_HIGH], color: BLUE, style: ENDF_STYLE, order: 2 },
      { label: SERIES_NAMES[1], x: E_TOTAL_ML, y: [...TOTAL_ML_LOW, ...TOTAL_ML_RRR, ...TOTAL_ML_HIGH], color: ORANGE, style: ML_THICK, order: 1 },
    ],
  },
  {
    id: "fission", col: 1, row: 0, yLog: true,
    yMin: Math.pow(10, -0.04), yMax: Math.pow(10, 4.665), yTicks: FISSION_Y_EXPONENTS,
    title: PANEL_TITLES[1], yLabel: Y_LABEL_TOP, legend: true,
    series: [
      { label: SERIES_NAMES[0], x: E_FISSION_ENDF, y: [...FISSION_ENDF_LOW, ...FISSION_ENDF_RRR, ...FISSION_ENDF_HIGH], color: BLUE, style: ENDF_STYLE, order: 2 },
      { label: SERIES_NAMES[1], x: E_FISSION_ML, y: [...FISSION_ML_LOW, ...FISSION_ML_RRR, ...FISSION_ML_HIGH], color: ORANGE, style: ML_THIN, order: 1 },
    ],
  },
  {
    id: "capture", col: 2, row: 0, yLog: true,
    yMin: Math.pow(10, -4.284), yMax: Math.pow(10, 3.79), yTicks: CAPTURE_Y_EXPONENTS,
    title: PANEL_TITLES[2], yLabel: Y_LABEL_TOP, legend: true,
    series: [
      { label: SERIES_NAMES[0], x: E_CAPTURE, y: [...CAPTURE_ENDF_LOW, ...CAPTURE_ENDF_RRR, ...CAPTURE_ENDF_HIGH], color: BLUE, style: ENDF_STYLE, order: 2 },
      { label: SERIES_NAMES[1], x: E_CAPTURE, y: [...CAPTURE_ML_LOW, ...CAPTURE_ML_RRR, ...CAPTURE_ML_HIGH], color: ORANGE, style: ML_THIN, order: 1 },
    ],
  },
  {
    id: "dtotal", col: 0, row: 1, yLog: false,
    yMin: -381, yMax: 142.5, yTicks: DIFF_TOTAL_TICKS,
    yLabel: Y_LABEL_BOTTOM, legend: false,
    series: [{ label: "diff", x: E_DIFF_TOTAL, y: [...DIFF_TOTAL_LOW, ...DIFF_TOTAL_RRR, ...DIFF_TOTAL_HIGH], color: BLUE, style: SOLID, order: 1 }],
  },
  {
    id: "dfission", col: 1, row: 1, yLog: false,
    yMin: -175.4, yMax: 246.3, yTicks: DIFF_FISSION_TICKS,
    yLabel: Y_LABEL_BOTTOM, legend: false,
    series: [{ label: "diff", x: E_DIFF_FISSION, y: [...DIFF_FISSION_LOW, ...DIFF_FISSION_RRR, ...DIFF_FISSION_HIGH], color: BLUE, style: SOLID, order: 1 }],
  },
  {
    id: "dcapture", col: 2, row: 1, yLog: false,
    yMin: -40.6, yMax: 91.8, yTicks: DIFF_CAPTURE_TICKS,
    yLabel: Y_LABEL_BOTTOM, legend: false,
    series: [{ label: "diff", x: E_DIFF_CAPTURE, y: [...DIFF_CAPTURE_LOW, ...DIFF_CAPTURE_RRR, ...DIFF_CAPTURE_HIGH], color: BLUE, style: SOLID, order: 1 }],
  },
];

function toPoints(xs: number[], ys: number[]) {
  const n = Math.min(xs.length, ys.length);
  const out: { x: number; y: number }[] = [];
  for (let i = 0; i < n; i++) out.push({ x: xs[i], y: ys[i] });
  return out;
}

function denseSegment(c: any) {
  const data = c.chart.data.datasets[c.datasetIndex].data;
  const a = data[c.p0DataIndex];
  const b = data[c.p1DataIndex];
  if (!a || !b) return false;
  return a.x >= DENSE_MIN && b.x <= DENSE_MAX;
}

function drawPower(ctx: CanvasRenderingContext2D, k: number, x: number, baseline: number, align: "center" | "right") {
  const base = "10";
  const exp = k < 0 ? "\u2212" + Math.abs(k) : String(k);
  ctx.font = `${TICK_SIZE}px ${FONT}`;
  const wb = ctx.measureText(base).width;
  ctx.font = `${SUP_SIZE}px ${FONT}`;
  const we = ctx.measureText(exp).width;
  const total = wb + SUP_GAP + we;
  const x0 = align === "center" ? x - total / 2 : x - total;
  ctx.textAlign = "left";
  ctx.textBaseline = "alphabetic";
  ctx.font = `${TICK_SIZE}px ${FONT}`;
  ctx.fillText(base, x0, baseline);
  ctx.font = `${SUP_SIZE}px ${FONT}`;
  ctx.fillText(exp, x0 + wb + SUP_GAP, baseline - SUP_RAISE);
  return x0;
}

function decorPlugin(spec: Spec) {
  return {
    id: "decor_" + spec.id,
    afterDraw(chart: any) {
      const ctx: CanvasRenderingContext2D = chart.ctx;
      const { left, top, right, bottom } = chart.chartArea;
      const row = ROWS[spec.row];
      ctx.save();
      ctx.fillStyle = INK;
      ctx.strokeStyle = INK;
      ctx.lineWidth = 1.25;
      ctx.setLineDash([]);
      ctx.strokeRect(left, top, right - left, bottom - top);

      const xs = chart.scales.x;
      for (const k of X_TICK_EXPONENTS) {
        const px = xs.getPixelForValue(Math.pow(10, k));
        drawPower(ctx, k, px, bottom + 34.5, "center");
      }

      const ys = chart.scales.y;
      let minLeft = left;
      if (spec.yLog) {
        for (const k of spec.yTicks) {
          const py = ys.getPixelForValue(Math.pow(10, k));
          const l = drawPower(ctx, k, left - 12, py + CAP_HALF, "right");
          minLeft = Math.min(minLeft, l);
        }
      } else {
        ctx.font = `${TICK_SIZE}px ${FONT}`;
        ctx.textAlign = "right";
        ctx.textBaseline = "alphabetic";
        for (const v of spec.yTicks) {
          const py = ys.getPixelForValue(v);
          const s = v < 0 ? "\u2212" + Math.abs(v) : String(v);
          ctx.fillText(s, left - 12, py + CAP_HALF);
          minLeft = Math.min(minLeft, left - 12 - ctx.measureText(s).width);
        }
      }

      ctx.font = `${LABEL_SIZE}px ${FONT}`;
      ctx.textAlign = "center";
      ctx.textBaseline = "alphabetic";
      ctx.fillText(X_LABEL, (left + right) / 2, bottom + 62);

      ctx.save();
      ctx.translate(minLeft - YLABEL_GAP, (top + bottom) / 2);
      ctx.rotate(-Math.PI / 2);
      ctx.fillText(spec.yLabel, 0, 0);
      ctx.restore();

      if (spec.title) {
        ctx.fillText(spec.title, (left + right) / 2, 25 - row.ct);
      }

      if (spec.legend) {
        const w = 138, h = 68;
        const lx = right - 11 - w, ly = top + 10.5;
        ctx.beginPath();
        (ctx as any).roundRect(lx, ly, w, h, 4);
        ctx.fillStyle = "rgba(255,255,255,0.8)";
        ctx.fill();
        ctx.strokeStyle = "#cccccc";
        ctx.lineWidth = 1;
        ctx.stroke();
        spec.series.forEach((s, i) => {
          const cy = ly + 18.7 + i * 31;
          ctx.beginPath();
          ctx.setLineDash(s.style.dash);
          ctx.lineWidth = s.style.width;
          ctx.strokeStyle = s.color;
          ctx.lineCap = "butt";
          ctx.moveTo(lx + 8, cy);
          ctx.lineTo(lx + 51, cy);
          ctx.stroke();
          ctx.setLineDash([]);
          ctx.fillStyle = INK;
          ctx.font = `${LEGEND_SIZE}px ${FONT}`;
          ctx.textAlign = "left";
          ctx.fillText(s.label, lx + 71, cy + CAP_HALF);
        });
      }
      ctx.restore();
    },
  };
}

function Panel({ spec }: { spec: Spec }) {
  const ref = useRef<HTMLCanvasElement | null>(null);
  const col = COLS[spec.col];
  const row = ROWS[spec.row];
  useEffect(() => {
    const canvas = ref.current;
    if (!canvas) return;
    const boxLeft = col.bl - col.cl;
    const boxTop = row.bt - row.ct;
    const chart = new Chart(canvas, {
      type: "line",
      data: {
        datasets: spec.series.map((s) => ({
          label: s.label,
          data: toPoints(s.x, s.y),
          borderColor: s.color,
          backgroundColor: s.color,
          borderWidth: s.style.width,
          borderDash: s.style.dash,
          borderJoinStyle: "round",
          borderCapStyle: "butt",
          pointRadius: 0,
          pointHoverRadius: 0,
          fill: false,
          tension: 0,
          order: s.order,
          segment: s.style.dash.length
            ? { borderDash: (c: any) => (denseSegment(c) ? [] : undefined) }
            : undefined,
        })),
      },
      options: {
        animation: false,
        responsive: false,
        maintainAspectRatio: false,
        devicePixelRatio: 1,
        events: [],
        layout: {
          padding: {
            left: boxLeft,
            top: boxTop,
            right: col.cw - boxLeft - BOX_W,
            bottom: row.ch - boxTop - BOX_H,
          },
        },
        plugins: {
          legend: { display: false },
          tooltip: { enabled: false },
          title: { display: false },
        },
        scales: {
          x: { type: "logarithmic", display: false, min: X_MIN, max: X_MAX },
          y: { type: spec.yLog ? "logarithmic" : "linear", display: false, min: spec.yMin, max: spec.yMax },
        },
      } as any,
      plugins: [decorPlugin(spec)],
    } as any);
    return () => chart.destroy();
  }, [spec]);
  return (
    <canvas
      ref={ref}
      width={col.cw}
      height={row.ch}
      style={{ position: "absolute", left: col.cl, top: row.ct, width: col.cw, height: row.ch }}
    />
  );
}

export default function App() {
  return (
    <div
      style={{
        position: "absolute",
        left: 0,
        top: 0,
        width: 1766,
        height: 974,
        background: "#ffffff",
        overflow: "hidden",
      }}
    >
      {SPECS.map((s) => (
        <Panel key={s.id} spec={s} />
      ))}
    </div>
  );
}
